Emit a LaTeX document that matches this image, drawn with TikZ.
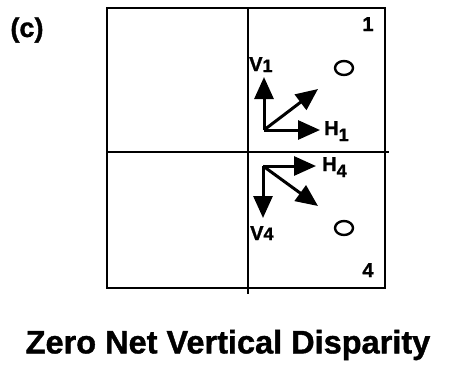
\documentclass[tikz,border=0pt]{standalone}
\usepackage{fontspec}
\setmainfont{Liberation Sans}
\newfontfamily\heavyfont{Liberation Sans Bold}[FakeBold=1.2]
\usetikzlibrary{arrows.meta,positioning}

% letter with an index, lowered by #3
\newcommand{\vecname}[3]{#1\raisebox{-#3}{\fontsize{18}{18}\selectfont #2}}

\begin{document}
\begin{tikzpicture}[
            x=1pt, y=-1pt,
            >={Triangle[length=22pt,width=19pt]},
            vec/.style={->, line width=3pt},
            frame/.style={line width=2.6pt},
            vlabel/.style={font=\heavyfont\fontsize{20}{20}\selectfont, inner sep=0pt, anchor=base west},
            qlabel/.style={font=\heavyfont\fontsize{20}{20}\selectfont, inner sep=0pt, anchor=base},
            spot/.style={line width=2.4pt}
        ]
            \useasboundingbox (0,0) rectangle (456,368);

            % panel and quadrants
            \draw[frame] (107,8) rectangle (385,288);
            \draw[frame] (248,8) -- (248,294);
            \draw[frame] (107,152) -- (389,152);

            \node[font=\heavyfont\fontsize{27}{27}\selectfont, inner sep=0pt] (tag) at (27,30) {(c)};
            \node[qlabel] (q1) at (368,31) {1};
            \node[qlabel] (q4) at (368,277) {4};

            % quadrant 1
            \coordinate (O1) at (264,130);
            \coordinate (V1) at (264,77);
            \coordinate (H1) at (320,130);
            \coordinate (D1) at (318,89);
            \draw[vec] (O1) -- (V1);
            \draw[vec] (O1) -- (H1);
            \draw[vec] (O1) -- (D1);
            \node[vlabel] (v1) at (249,71) {\vecname{V}{1}{1pt}};
            \node[vlabel] (h1) at (324,135) {\vecname{H}{1}{6pt}};
            \draw[spot] (344,68) ellipse [x radius=9, y radius=7];

            % quadrant 4
            \coordinate (O4) at (263,166);
            \coordinate (V4) at (263,218);
            \coordinate (H4) at (316,166);
            \coordinate (D4) at (318,206);
            \draw[vec] (O4) -- (V4);
            \draw[vec] (O4) -- (H4);
            \draw[vec] (O4) -- (D4);
            \node[vlabel] (v4) at (250,240) {\vecname{V}{4}{0pt}};
            \node[vlabel] (h4) at (322,171) {\vecname{H}{4}{6pt}};
            \draw[spot] (344,228) ellipse [x radius=9, y radius=7];

            \node[font=\heavyfont\fontsize{32.5}{32.5}\selectfont, inner sep=0pt] (title) at (228,345) {Zero Net Vertical Disparity};
        \end{tikzpicture}
\end{document}
